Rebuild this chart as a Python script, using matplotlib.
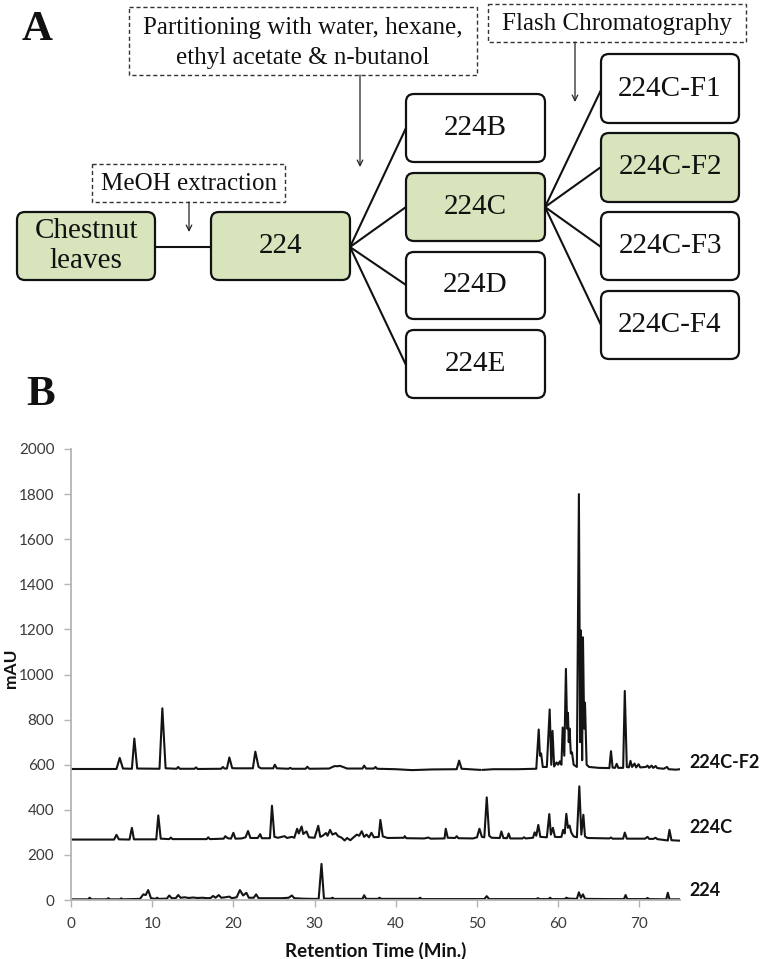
import numpy as np
import matplotlib
matplotlib.use("Agg")
import matplotlib.pyplot as plt
from matplotlib.patches import FancyBboxPatch

# ---------------- data ----------------
series_names = ["224C-F2", "224C", "224"]

f2_t = [0, 5.6, 6.0, 6.4, 7.5, 7.8, 8.15, 10.9, 11.25, 11.65, 13.0, 13.2, 13.4, 15.2, 15.4, 15.6,
        18.5, 18.7, 18.9, 19.2, 19.5, 19.85, 20.2, 22.4, 22.7, 23.1, 23.4, 24.9, 25.1, 25.35,
        26.8, 27.0, 27.2, 28.9, 29.1, 29.35, 31.8, 32.2, 32.5, 32.8, 33.1, 33.5, 34.0, 35.9,
        36.1, 36.35, 37.3, 37.5, 37.7, 40.0, 42.0, 44.5, 47.5, 47.8, 48.1, 50.4, np.nan, 50.7,
        52.0, 55.0, 57.3, 57.6, 57.75, 57.9, 58.1, 58.6, 58.95, 59.15, 59.3, 59.5, 59.8, 60.0,
        60.2, 60.4, 60.55, 60.75, 60.95, 61.1, 61.2, 61.3, 61.4, 61.55, 61.7, 61.9, 62.3,
        62.55, 62.7, 62.8, 62.95, 63.05, 63.2, 63.3, 63.5, 63.8, 65.0, 66.3, 66.5, 66.7, 67.0,
        67.2, 67.4, 68.0, 68.2, 68.45, 68.7, 68.9, 69.1, 69.4, 69.6, 69.9, 70.1, 70.8, 71.0,
        71.2, 71.5, 71.7, 72.0, 72.2, 73.0, 73.4, 73.6, 74.5, 75.0]
f2_v = [581, 581, 630, 583, 582, 716, 583, 582, 850, 584, 582, 590, 582, 582, 588, 581,
        582, 590, 583, 583, 632, 585, 584, 584, 658, 590, 584, 584, 600, 584,
        582, 586, 582, 582, 591, 582, 583, 590, 594, 593, 595, 590, 583, 583,
        596, 583, 583, 590, 582, 580, 576, 579, 580, 618, 582, 577, np.nan, 577,
        580, 580, 582, 756, 640, 650, 590, 590, 845, 600, 750, 592, 610, 600,
        615, 600, 765, 640, 1025, 760, 830, 700, 760, 650, 655, 600, 590,
        1800, 700, 1195, 620, 1165, 760, 875, 600, 590, 586, 585, 660, 587, 586,
        604, 586, 586, 927, 590, 588, 617, 590, 605, 588, 602, 588, 590, 596,
        586, 596, 586, 594, 585, 582, 590, 580, 578, 580]

c_t = [0, 5.3, 5.6, 5.9, 7.2, 7.5, 7.75, 10.5, 10.75, 11.05, 12.1, 12.3, 12.5, 16.7, 16.9, 17.1,
       18.8, 19.0, 19.3, 19.7, 20.0, 20.25, 21.0, 21.5, 21.8, 22.1, 23.0, 23.3, 23.5, 24.5,
       24.75, 25.05, 25.5, 26.3, 26.6, 27.2, 27.5, 27.85, 28.05, 28.4, 28.6, 29.0, 29.3, 30.0,
       30.45, 30.7, 31.0, 31.4, 31.6, 31.9, 32.2, 32.6, 32.9, 33.3, 33.7, 34.0, 34.4, 34.8,
       35.2, 35.5, 35.8, 36.1, 36.4, 36.7, 37.0, 37.3, 37.9, 38.1, 38.4, 39.0, 41.0, 41.1,
       41.3, 43.5, 44.0, 44.3, 46.0, 46.15, 46.4, 47.3, 47.5, 47.7, 49.5, 50.0, 50.3, 50.6,
       50.9, 51.2, 51.5, 51.8, 52.8, 53.0, 53.25, 53.7, 53.9, 54.1, 55.6, 55.8, 56.0, 56.9,
       57.1, 57.3, 57.55, 57.8, 58.6, 58.9, 59.1, 59.35, 59.6, 60.0, 60.4, 60.6, 60.8, 61.0,
       61.2, 61.4, 61.6, 61.9, 62.3, 62.6, 62.85, 63.1, 63.3, 63.6, 66.3, 66.5, 66.7, 68.0,
       68.2, 68.45, 70.7, 71.0, 71.2, 71.7, 72.0, 72.2, 73.5, 73.7, 73.95, 75.0]
c_v = [268, 268, 289, 269, 268, 320, 269, 269, 375, 272, 270, 277, 270, 270, 278, 270,
       272, 283, 274, 272, 298, 272, 273, 278, 306, 275, 275, 292, 274, 274,
       418, 280, 276, 283, 275, 280, 276, 316, 295, 326, 293, 304, 278, 276,
       329, 280, 285, 297, 285, 311, 290, 297, 283, 277, 264, 275, 265, 278,
       290, 285, 305, 280, 290, 278, 298, 278, 280, 355, 282, 275, 276, 283,
       274, 273, 277, 272, 273, 316, 276, 275, 283, 274, 273, 278, 316, 280,
       278, 455, 285, 276, 275, 304, 275, 274, 295, 273, 273, 278, 273, 276,
       300, 285, 333, 280, 278, 381, 290, 320, 280, 279, 280, 311, 295, 382,
       320, 330, 300, 282, 278, 504, 290, 378, 282, 275, 273, 277, 272, 272,
       299, 272, 272, 280, 271, 271, 276, 270, 264, 311, 265, 263]

r_t = [0, 2.1, 2.3, 2.5, 4.4, 4.6, 4.8, 6.0, 6.2, 6.4, 8.5, 8.9, 9.2, 9.5, 9.85, 10.4, 10.6,
       10.8, 11.8, 12.1, 12.4, 12.9, 13.2, 13.5, 14.0, 14.5, 15.0, 15.6, 16.2, 16.8, 17.2,
       17.5, 17.8, 18.2, 18.5, 19.0, 19.5, 19.8, 20.4, 20.8, 21.2, 21.6, 21.9, 22.5, 22.8,
       23.1, 24.0, 25.0, 26.0, 26.8, 27.2, 27.5, 28.5, 29.5, 30.5, 30.85, 31.15, 32.0, 32.2,
       32.4, 35.9, 36.1, 36.35, 37.8, 38.0, 38.2, 42.8, 43.0, 43.2, 50.9, 51.2, 51.5, 57.3,
       57.5, 57.7, 58.8, 59.0, 59.2, 60.8, 61.0, 61.3, 62.3, 62.55, 62.8, 63.05, 63.3, 66.5,
       68.1, 68.3, 68.5, 70.8, 71.0, 71.2, 73.3, 73.5, 73.7, 75.0]
r_v = [3, 3, 10, 3, 3, 8, 3, 3, 7, 3, 5, 25, 22, 44, 8, 5, 10,
       5, 6, 20, 8, 8, 22, 10, 12, 9, 11, 9, 10, 8, 9,
       18, 10, 22, 10, 12, 15, 8, 12, 44, 20, 32, 10, 10, 25,
       8, 8, 8, 8, 10, 20, 8, 6, 5, 5, 160, 6, 6, 10,
       5, 5, 21, 5, 5, 10, 5, 5, 10, 4, 4, 17, 4, 4,
       8, 4, 4, 10, 4, 4, 10, 6, 5, 34, 10, 25, 5, 4,
       4, 22, 4, 4, 9, 4, 3, 32, 3, 3]

label_y = [609, 320, 40]

y_ticks = [0, 200, 400, 600, 800, 1000, 1200, 1400, 1600, 1800, 2000]
x_ticks = [0, 10, 20, 30, 40, 50, 60, 70]

# ---------------- figure ----------------
W, H = 763, 959
fig = plt.figure(figsize=(W / 100, H / 100), dpi=100)

# ---- Panel B: chromatograms ----
ax = fig.add_axes([71 / W, 1 - 900 / H, (680 - 71) / W, (900 - 449) / H])
line_kw = dict(color="#141414", lw=1.5, solid_joinstyle="round")
ax.plot(f2_t, f2_v, **line_kw)
ax.plot(c_t, c_v, **line_kw)
ax.plot(r_t, r_v, **line_kw)
ax.set_xlim(0, 75)
ax.set_ylim(0, 2000)
ax.set_yticks(y_ticks)
ax.set_xticks(x_ticks)
for s in ["top", "right"]:
    ax.spines[s].set_visible(False)
for s in ["left", "bottom"]:
    ax.spines[s].set_color("#b4b4b4")
    ax.spines[s].set_linewidth(1.3)
ax.tick_params(axis="both", direction="out", length=5, width=1.0, color="#b4b4b4",
               labelsize=11, labelcolor="#3a3a3a")
ax.tick_params(axis="y", pad=7)
ax.tick_params(axis="x", pad=7)
for lab in ax.get_xticklabels() + ax.get_yticklabels():
    lab.set_family("Lato")
ax.set_xlabel("Retention Time (Min.)", family="Lato", fontweight="bold", fontsize=13.5,
              color="#111111", labelpad=8)
ax.set_ylabel("mAU", family="Lato", fontweight="bold", fontsize=12.5, color="#111111")
ax.yaxis.set_label_coords((19 - 71) / 609, (900 - 668) / 451)
for name, yv in zip(series_names, label_y):
    ax.text(76.2, yv, name, family="Lato", fontweight="bold", fontsize=13,
            color="#111111", va="center", ha="left", clip_on=False)

# ---- Panel A: flow diagram (pixel coordinates) ----
d = fig.add_axes([0, 0, 1, 1], zorder=-1)
d.set_xlim(0, W)
d.set_ylim(H, 0)
d.axis("off")
d.patch.set_alpha(0)

green = "#d7e4bc"
serif = "Liberation Serif"

def box(x0, y0, x1, y1, text, fill="white", fs=21):
    p = FancyBboxPatch((x0, y0), x1 - x0, y1 - y0,
                       boxstyle="round,pad=0,rounding_size=8",
                       fc=fill, ec="#111111", lw=1.6)
    d.add_patch(p)
    d.text((x0 + x1) / 2, (y0 + y1) / 2, text, family=serif, fontsize=fs,
           ha="center", va="center", color="#111111", linespacing=1.15)

def dbox(x0, y0, x1, y1):
    p = FancyBboxPatch((x0, y0), x1 - x0, y1 - y0,
                       boxstyle="square,pad=0", fc="white", ec="#333333",
                       lw=1.0, ls=(0, (3, 2)))
    d.add_patch(p)

def arrow(x, y0, y1):
    d.annotate("", xy=(x, y1), xytext=(x, y0),
               arrowprops=dict(arrowstyle="->", lw=0.9, color="#222222",
                               shrinkA=0, shrinkB=0, mutation_scale=10))

def seg(x0, y0, x1, y1):
    d.plot([x0, x1], [y0, y1], color="#111111", lw=1.5, solid_capstyle="round")

# connecting lines
seg(155, 247, 211, 247)
for yy in [128, 207, 285, 365]:
    seg(350, 247, 406, yy)
for yy in [90, 167, 247, 325]:
    seg(545, 207, 601, yy)

# dashed annotation boxes
dbox(129, 7, 477, 75)
d.text(303, 28, "Partitioning with water, hexane,", family=serif, fontsize=18,
       ha="center", va="center", color="#111111")
d.text(303, 58, "ethyl acetate & n-butanol", family=serif, fontsize=18,
       ha="center", va="center", color="#111111")
arrow(360, 75, 167)

dbox(488, 4, 746, 42)
d.text(617, 24, "Flash Chromatography", family=serif, fontsize=18,
       ha="center", va="center", color="#111111")
arrow(575, 42, 102)

dbox(92, 164, 285, 202)
d.text(189, 184, "MeOH extraction", family=serif, fontsize=18,
       ha="center", va="center", color="#111111")
arrow(189, 202, 232)

# boxes
box(17, 212, 155, 280, "Chestnut\nleaves", fill=green)
box(211, 212, 350, 280, "224", fill=green)
box(406, 94, 545, 162, "224B")
box(406, 173, 545, 241, "224C", fill=green)
box(406, 252, 545, 319, "224D")
box(406, 330, 545, 398, "224E")
box(601, 54, 739, 123, "224C-F1")
box(601, 133, 739, 202, "224C-F2", fill=green)
box(601, 212, 739, 280, "224C-F3")
box(601, 291, 739, 359, "224C-F4")

# panel letters
d.text(22, 30, "A", family=serif, fontweight="bold", fontsize=31, ha="left",
       va="center", color="#111111")
d.text(26, 395, "B", family=serif, fontweight="bold", fontsize=31, ha="left",
       va="center", color="#111111")

fig.savefig("out.png", dpi=100)
